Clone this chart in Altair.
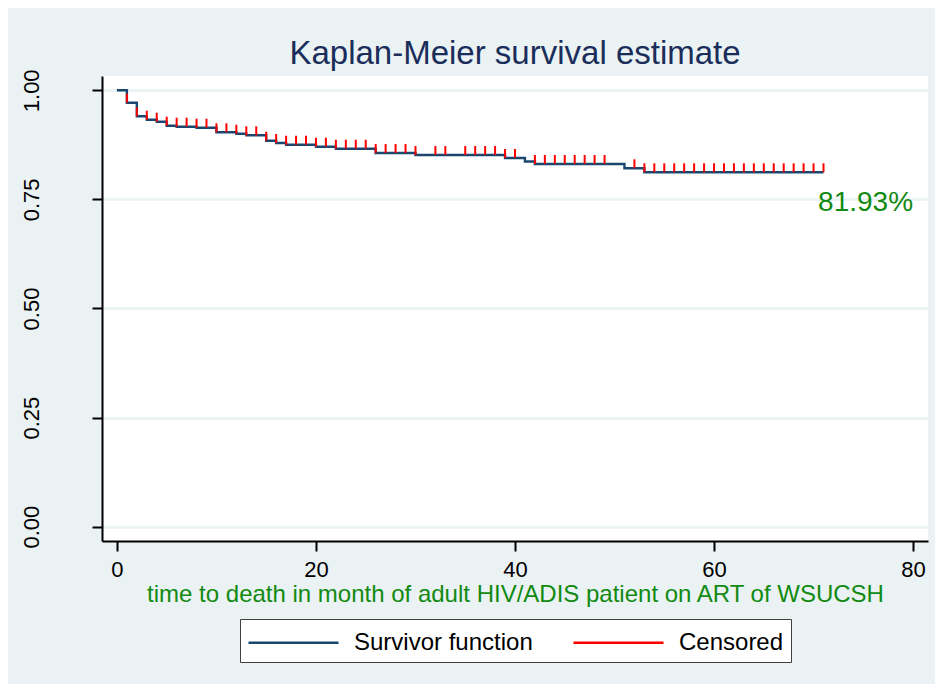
import altair as alt
import pandas as pd

# ---- data ----
drop_times = [1, 2, 3, 4, 5, 6, 8, 10, 12, 13, 15, 16, 17, 20, 22, 26, 30, 39, 41, 42, 51, 53]
survival = [0.9716, 0.9404, 0.9326, 0.9280, 0.9189, 0.9166, 0.9143, 0.9038, 0.9005, 0.8969,
            0.8845, 0.8792, 0.8753, 0.8708, 0.8662, 0.8563, 0.8517, 0.8449, 0.8368, 0.8311,
            0.8213, 0.8121]
start_time = 0
end_time = 71
censor_times = [1, 2, 3, 4, 5, 6, 7, 8, 9, 10, 11, 12, 13, 14, 15, 16, 17, 18, 19, 20,
                21, 22, 23, 24, 25, 26, 27, 28, 29, 30, 32, 33, 35, 36, 37, 38, 39, 40,
                42, 43, 44, 45, 46, 47, 48, 49, 52, 53, 54, 55, 56, 57, 58, 59, 60, 61,
                62, 63, 64, 65, 66, 67, 68, 69, 70, 71]
series_names = ["Survivor function", "Censored"]
x_ticks = [0, 20, 40, 60, 80]
y_ticks = [0, 0.25, 0.5, 0.75, 1.0]
final_label = "81.93%"
label_x = 80
label_y = 0.75

title_text = "Kaplan-Meier survival estimate"
x_title = "time to death in month of adult HIV/ADIS patient on ART of WSUCSH"

# ---- tables ----
line_df = pd.DataFrame({
    "t": [start_time] + drop_times + [end_time],
    "s": [1.0] + survival + [survival[-1]],
    "series": series_names[0],
})


def surv_at(t):
    s = 1.0
    for dt, sv in zip(drop_times, survival):
        if dt <= t:
            s = sv
    return s


cens_df = pd.DataFrame({
    "t": censor_times,
    "s": [surv_at(t) for t in censor_times],
    "series": series_names[1],
})

FONT = "Liberation Sans"
NAVY = "#1a476f"
RED = "#ff0000"
GREEN = "#128a12"
BG = "#eaf2f3"

xscale = alt.Scale(domain=[-1.5, 81.5], nice=False, zero=False)
yscale = alt.Scale(domain=[-0.0328, 1.0328], nice=False, zero=False)

color = alt.Color(
    "series:N",
    scale=alt.Scale(domain=series_names, range=[NAVY, RED]),
    legend=alt.Legend(
        title=None,
        orient="none",
        legendX=138,
        legendY=543,
        direction="horizontal",
        fillColor="white",
        strokeColor="#404040",
        padding=7,
        symbolType="M-1,0L5,0",
        symbolSize=900,
        symbolStrokeWidth=2.5,
        labelFont=FONT,
        labelFontSize=24,
        labelColor="black",
        labelOffset=74,
        columnPadding=35,
        labelLimit=400,
    ),
)

xaxis = alt.Axis(
    values=x_ticks, title=x_title, grid=False,
    labelFont=FONT, labelFontSize=22, labelColor="black", labelPadding=8,
    titleFont=FONT, titleFontSize=24, titleFontWeight="normal", titleColor=GREEN,
    titlePadding=2,
    domainColor="black", domainWidth=2, tickColor="black", tickWidth=2, tickSize=10,
)
yaxis = alt.Axis(
    values=y_ticks, format=".2f", title=None, grid=True,
    gridColor=BG, gridWidth=2.5,
    labelFont=FONT, labelFontSize=22, labelColor="black",
    labelAngle=270, labelAlign="center", labelBaseline="alphabetic", labelPadding=54,
    domainColor="black", domainWidth=2, tickColor="black", tickWidth=2, tickSize=10,
)

line = alt.Chart(line_df).mark_line(interpolate="step-after", strokeWidth=2.4).encode(
    x=alt.X("t:Q", scale=xscale, axis=xaxis),
    y=alt.Y("s:Q", scale=yscale, axis=yaxis),
    color=color,
)

cens = alt.Chart(cens_df).transform_calculate(
    s_top="datum.s + 0.0206"
).mark_rule(strokeWidth=2).encode(
    x=alt.X("t:Q", scale=xscale),
    y=alt.Y("s:Q", scale=yscale),
    y2="s_top:Q",
    color=color,
)

label = alt.Chart(pd.DataFrame({"x": [label_x], "y": [label_y], "txt": [final_label]})).mark_text(
    align="right", baseline="middle", dy=4, font=FONT, fontSize=28, color=GREEN
).encode(
    x=alt.X("x:Q", scale=xscale),
    y=alt.Y("y:Q", scale=yscale),
    text="txt:N",
)

chart = alt.layer(line, cens, label).properties(
    width=826,
    height=465,
    background=BG,
    padding={"left": 94, "top": 68, "right": 7, "bottom": 143},
    autosize=alt.AutoSizeParams(type="none"),
    title=alt.TitleParams(
        text=title_text, font=FONT, fontSize=33, fontWeight="normal",
        color="#1b2d5a", anchor="middle", offset=-2,
    ),
).configure_view(fill="white", strokeWidth=0)

chart.save("out.html", embed_options={"renderer": "svg", "actions": False})
